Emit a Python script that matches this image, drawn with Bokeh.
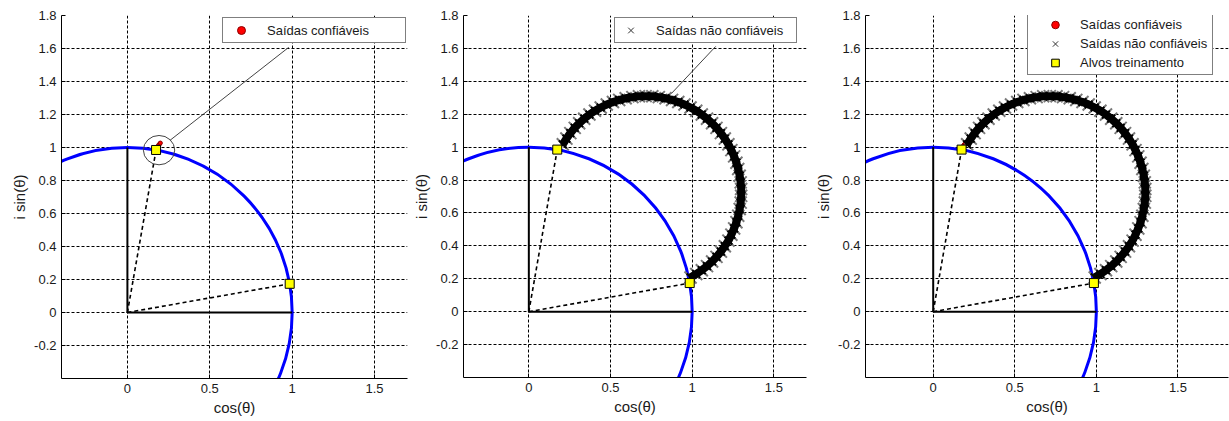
from bokeh.plotting import figure
from bokeh.layouts import row
from bokeh.models import FixedTicker, Legend, LegendItem, ColumnDataSource
from bokeh.embed import file_html
from bokeh.resources import INLINE

# ---------------- data ----------------
x_ticks = [0, 0.5, 1, 1.5]
x_tick_labels = ["0", "0.5", "1", "1.5"]
y_ticks = [-0.2, 0, 0.2, 0.4, 0.6, 0.8, 1.0, 1.2, 1.4, 1.6, 1.8]
y_tick_labels = ["-0.2", "0", "0.2", "0.4", "0.6", "0.8", "1", "1.2", "1.4", "1.6", "1.8"]

x_label = "cos(θ)"
y_label = "i sin(θ)"

# unit circle (centre and diameter)
circle_cx = [0.0]
circle_cy = [0.0]
circle_diam = [2.0]

# solid reference axes path: (0,1) -> (0,0) -> (1,0)
basis_x = [0.0, 0.0, 1.0]
basis_y = [1.0, 0.0, 0.0]
origin_x = [0.0, 0.0]
origin_y = [0.0, 0.0]

# training targets
target_x = [0.174, 0.985]
target_y = [0.985, 0.174]

# reliable outputs (red)
reliable_x = [0.178, 0.184, 0.190, 0.196, 0.200]
reliable_y = [0.996, 1.006, 1.015, 1.022, 1.027]

# unreliable outputs (x markers)
unreliable_x = [0.990, 1.025, 1.059, 1.091, 1.122, 1.149, 1.176, 1.200, 1.222, 1.240,
                1.257, 1.271, 1.282, 1.291, 1.297, 1.300, 1.300, 1.297, 1.291, 1.282,
                1.271, 1.257, 1.240, 1.222, 1.200, 1.176, 1.149, 1.122, 1.091, 1.059,
                1.025, 0.990, 0.953, 0.915, 0.877, 0.837, 0.796, 0.756, 0.715, 0.674,
                0.634, 0.593, 0.553, 0.515, 0.477, 0.440, 0.405, 0.371, 0.339, 0.308,
                0.281, 0.254, 0.230, 0.208]
unreliable_y = [0.208, 0.229, 0.252, 0.277, 0.305, 0.333, 0.365, 0.398, 0.432, 0.468,
                0.506, 0.544, 0.583, 0.624, 0.663, 0.704, 0.746, 0.786, 0.826, 0.867,
                0.905, 0.944, 0.982, 1.017, 1.052, 1.085, 1.117, 1.145, 1.173, 1.198,
                1.221, 1.241, 1.259, 1.274, 1.287, 1.297, 1.304, 1.309, 1.310, 1.309,
                1.304, 1.297, 1.287, 1.274, 1.259, 1.241, 1.221, 1.198, 1.173, 1.145,
                1.117, 1.085, 1.052, 1.017]

# callouts
callout1_ex = [0.192]
callout1_ey = [0.984]
callout1_w = [0.19]
callout1_h = [0.178]
callout1_line_x = [0.258, 0.979]
callout1_line_y = [1.043, 1.607]
callout2_line_x = [0.874, 1.144]
callout2_line_y = [1.327, 1.612]

lbl_reliable = "Saídas confiáveis"
lbl_unreliable = "Saídas não confiáveis"
lbl_targets = "Alvos treinamento"

FONT = "Liberation Sans"


def make_fig(fw, fh, left, right, top, bottom, xr, yr):
    p = figure(frame_width=fw, frame_height=fh, x_range=xr, y_range=yr,
               output_backend="svg", toolbar_location=None,
               min_border_left=left, min_border_right=right,
               min_border_top=top, min_border_bottom=bottom)
    p.outline_line_color = None
    p.background_fill_color = "white"
    p.border_fill_color = "white"
    p.xaxis.ticker = FixedTicker(ticks=x_ticks)
    p.yaxis.ticker = FixedTicker(ticks=y_ticks)
    p.xaxis.major_label_overrides = {t: l for t, l in zip(x_ticks, x_tick_labels)}
    p.yaxis.major_label_overrides = {t: l for t, l in zip(y_ticks, y_tick_labels)}
    for ax in (p.xaxis, p.yaxis):
        ax.axis_line_color = "black"
        ax.axis_line_width = 1
        ax.major_tick_in = 4
        ax.major_tick_out = 0
        ax.minor_tick_line_color = None
        ax.major_label_text_font = FONT
        ax.major_label_text_font_size = "13px"
        ax.major_label_text_color = "#1a1a1a"
        ax.axis_label_text_font = FONT
        ax.axis_label_text_font_size = "15px"
        ax.axis_label_text_font_style = "normal"
        ax.axis_label_text_color = "#1a1a1a"
        ax.major_label_standoff = 5
        ax.axis_label_standoff = 3
    p.xaxis.axis_label = x_label
    p.yaxis.axis_label = y_label
    for g in (p.xgrid, p.ygrid):
        g.grid_line_color = "black"
        g.grid_line_width = 1
        g.grid_line_dash = "3 2"
        g.grid_line_alpha = 1.0
    p.xgrid.ticker = FixedTicker(ticks=x_ticks)
    p.ygrid.ticker = FixedTicker(ticks=y_ticks)

    # unit circle
    p.ellipse(x=circle_cx, y=circle_cy, width=circle_diam, height=circle_diam,
              fill_color=None, line_color="#0000ff", line_width=3)
    # solid basis lines
    p.line(basis_x, basis_y, line_color="black", line_width=2)
    # dashed lines from origin to targets
    p.segment(x0=origin_x, y0=origin_y, x1=target_x, y1=target_y,
              line_color="black", line_width=1.6, line_dash="4 3")
    return p


def add_band(p):
    p.scatter(unreliable_x, unreliable_y, marker="x", size=17,
              line_color="#7a7a7a", line_width=2)
    p.line(unreliable_x, unreliable_y, line_color="black", line_width=8,
           line_join="round")
    p.scatter(unreliable_x, unreliable_y, marker="x", size=11,
              line_color="black", line_width=2)


def legend_x_renderer(p):
    src = ColumnDataSource(data=dict(x=[float("nan")], y=[float("nan")]))
    return p.scatter("x", "y", source=src, marker="x", size=8,
                     line_color="#333333", line_width=1)


def add_red(p):
    return p.scatter(reliable_x, reliable_y, marker="circle", size=4,
                     fill_color="#ff0000", line_color="#8b0000", line_width=1)


def add_targets(p):
    return p.scatter(target_x, target_y, marker="square", size=9,
                     fill_color="#ffff00", line_color="black", line_width=1)


def style_legend(leg, vx, vy, padding, gw, standoff, lw, lh):
    leg.location = (vx, vy)
    leg.margin = 0
    leg.padding = padding
    leg.spacing = 0
    leg.glyph_width = gw
    leg.glyph_height = lh
    leg.label_height = lh
    leg.label_width = lw
    leg.label_standoff = standoff
    leg.label_text_font = FONT
    leg.label_text_font_size = "13px"
    leg.label_text_color = "#1a1a1a"
    leg.border_line_color = "black"
    leg.border_line_width = 1
    leg.background_fill_color = "white"
    leg.background_fill_alpha = 1.0


# ---------------- panel 1 ----------------
p1 = make_fig(346, 363, 61, 3, 15, 43, (-0.4, 1.7), (-0.4, 1.8))
r_red1 = add_red(p1)
add_targets(p1)
p1.ellipse(x=callout1_ex, y=callout1_ey, width=callout1_w, height=callout1_h,
           fill_color=None, line_color="#444444", line_width=1)
p1.line(callout1_line_x, callout1_line_y, line_color="#444444", line_width=1)
leg1 = Legend(items=[LegendItem(label=lbl_reliable, renderers=[r_red1])])
style_legend(leg1, 161, 335, 2, 32, 10, 136, 20)
p1.add_layout(leg1, "center")

# ---------------- panel 2 ----------------
p2 = make_fig(343, 362, 53, 4, 12, 47, (-0.4, 1.7), (-0.4, 1.8))
add_band(p2)
add_targets(p2)
p2.line(callout2_line_x, callout2_line_y, line_color="#444444", line_width=1)
r_x2 = legend_x_renderer(p2)
leg2 = Legend(items=[LegendItem(label=lbl_unreliable, renderers=[r_x2])])
style_legend(leg2, 151, 334, 2, 27, 12, 138, 20)
p2.add_layout(leg2, "center")

# ---------------- panel 3 ----------------
p3 = make_fig(363, 362, 55, 1, 11, 48, (-0.415, 1.81), (-0.4, 1.8))
r_red3 = add_red(p3)
add_band(p3)
r_sq3 = add_targets(p3)
r_x3 = legend_x_renderer(p3)
leg3 = Legend(items=[LegendItem(label=lbl_reliable, renderers=[r_red3]),
                     LegendItem(label=lbl_unreliable, renderers=[r_x3]),
                     LegendItem(label=lbl_targets, renderers=[r_sq3])])
style_legend(leg3, 162, 302, 2, 50, 0, 130, 19)
p3.add_layout(leg3, "center")

layout = row(p1, p2, p3, spacing=0)
open("out.html", "w").write(file_html(layout, INLINE))
